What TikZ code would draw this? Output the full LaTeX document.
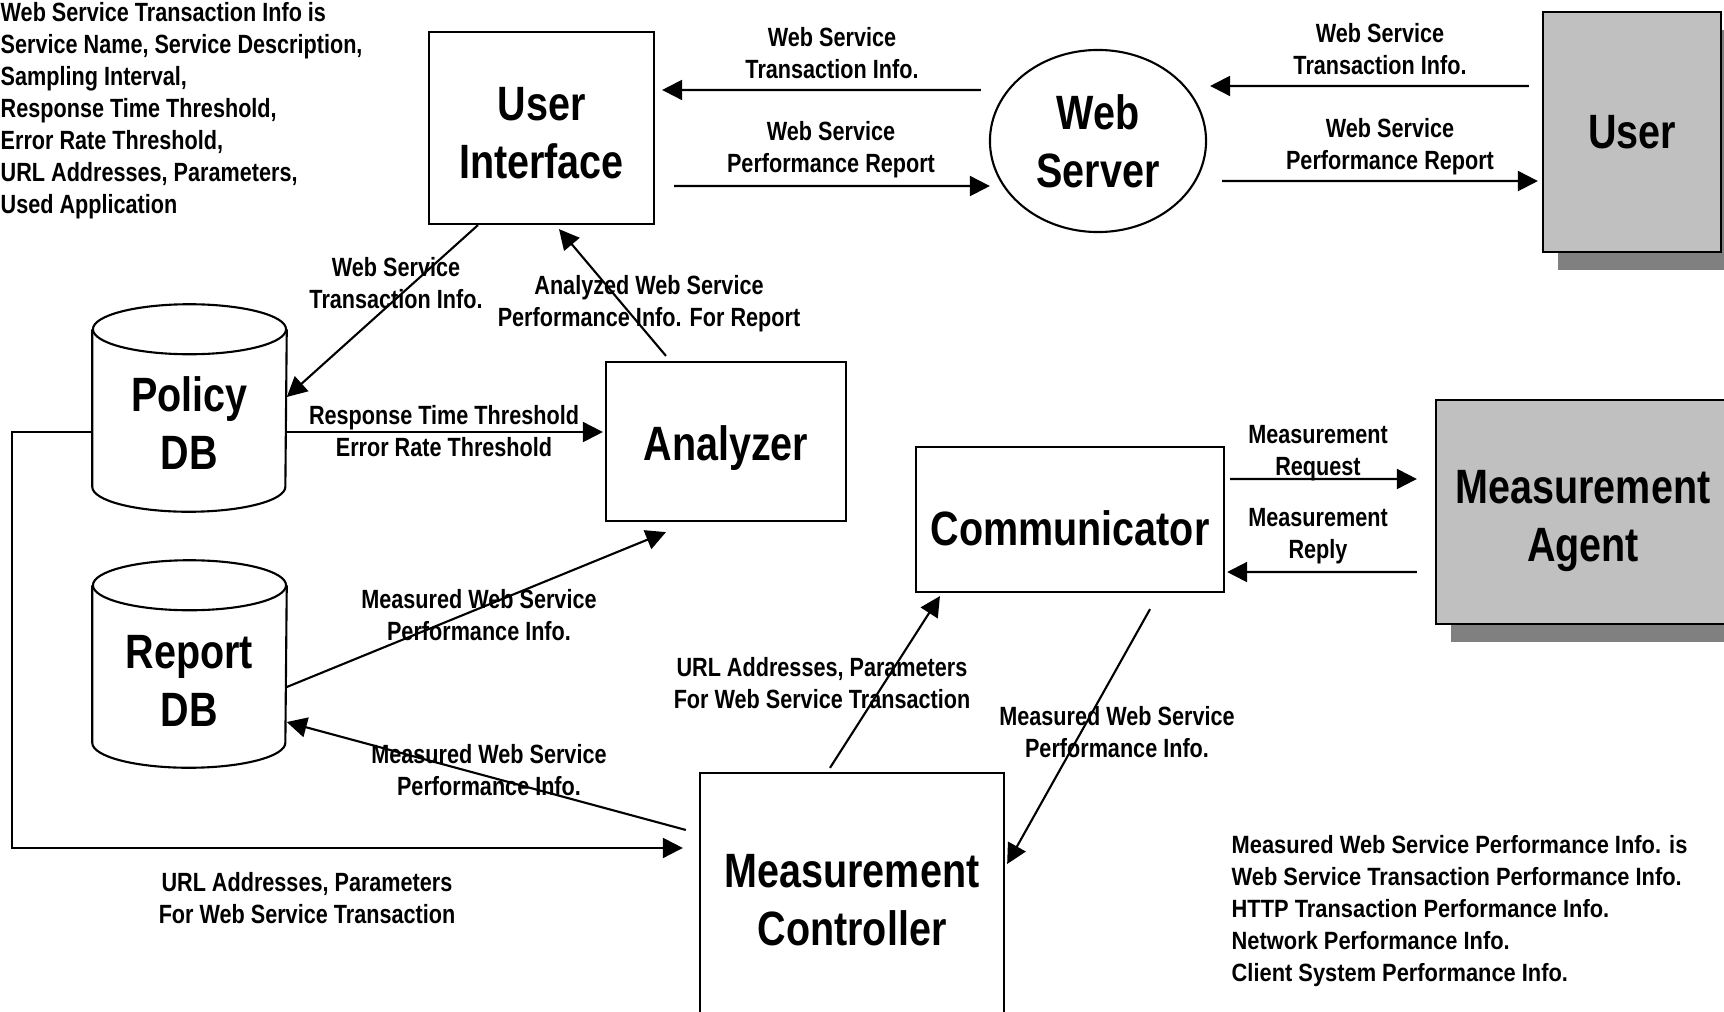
\documentclass[tikz,border=0pt]{standalone}
\usepackage{fontspec}
\setmainfont{Liberation Sans}
\newfontfamily\narrowfont{Liberation Sans}[FakeStretch=0.82]
\newfontfamily\notefont{Liberation Sans}[FakeStretch=0.875]
\usetikzlibrary{arrows.meta, positioning, shapes.geometric, shadows}

\definecolor{extgray}{HTML}{C0C0C0}
\definecolor{shadegray}{HTML}{808080}

\newcommand{\bigfont}{\narrowfont\bfseries\fontsize{13.7}{16.5}\selectfont}
\newcommand{\labfont}{\narrowfont\bfseries\fontsize{7.5}{9.1}\selectfont}

% database outline round a named node
\newcommand{\drawdb}[1]{%
    \draw[line width=0.6pt] ([yshift=-0.25cm]#1.north) ellipse[x radius=0.965cm, y radius=0.25cm];
    \draw[line width=0.6pt] ([yshift=-0.25cm]#1.north west) -- ([yshift=0.25cm]#1.south west)
        arc[start angle=180, end angle=360, x radius=0.965cm, y radius=0.25cm] -- ([yshift=-0.25cm]#1.north east);
}

\tikzset{
    unit/.style={draw, line width=0.6pt, font=\bigfont, align=center, inner sep=0pt},
    extunit/.style={unit, fill=extgray,
        drop shadow={shadow xshift=0.15cm, shadow yshift=-0.18cm, fill=shadegray, opacity=1}},
    dbase/.style={font=\bigfont, align=center, inner sep=0pt, minimum width=1.93cm, minimum height=2.06cm},
    lab/.style={font=\labfont, align=center, inner sep=0pt},
    flow/.style={line width=0.6pt, arrows={-Triangle[length=0.2cm, width=0.2cm]}}
}

\begin{document}
\begin{tikzpicture}[x=0.01cm, y=-0.01cm]
    \useasboundingbox (0,0) rectangle (1724,1012);

    %% main units
    % Nodes
    \node[unit, minimum width=2.25cm, minimum height=1.92cm, text height=28.8pt] (ui) at (541.5,128) {User\\Interface};
    \node[unit, ellipse, minimum width=2.16cm, minimum height=1.82cm] (web) at (1098,141) {Web\\Server};
    \node[extunit, minimum width=1.78cm, minimum height=2.4cm] (user) at (1632,132) {User};
    \node[dbase, text height=35pt] (policy) at (189.5,408) {Policy\\DB};
    \node[dbase, text height=35.5pt] (report) at (189.5,664) {Report\\DB};
    \node[unit, minimum width=2.4cm, minimum height=1.59cm, text height=13.6pt] (analyzer) at (726,441.5) {Analyzer};
    \node[unit, minimum width=3.08cm, minimum height=1.45cm, text height=15pt] (comm) at (1070,519.5) {Communicator};
    \node[extunit, minimum width=2.94cm, minimum height=2.24cm, text height=31.3pt] (agent) at (1583,512) {Measurement\\Agent};
    \node[unit, minimum width=3.04cm, minimum height=2.54cm] (ctrl) at (852,900) {Measurement\\Controller};
    \drawdb{policy}
    \drawdb{report}

    % Connections
    \draw[flow] ([xshift=-0.08cm, yshift=0.51cm]web.west) -- ([xshift=0.07cm, yshift=0.38cm]ui.east);
    \draw[flow] ([xshift=0.19cm, yshift=-0.58cm]ui.east) -- ([xshift=0.01cm, yshift=-0.45cm]web.west);
    \draw[flow] ([xshift=-0.13cm, yshift=0.46cm]user.west) -- ([xshift=0.03cm, yshift=0.55cm]web.east);
    \draw[flow] ([xshift=0.15cm, yshift=-0.4cm]web.east) -- ([xshift=-0.04cm, yshift=-0.49cm]user.west);
    \draw[flow] ([xshift=-0.635cm]ui.south) -- ([yshift=0.11cm]policy.east);
    \draw[flow] ([xshift=-0.6cm, yshift=0.05cm]analyzer.north) -- ([xshift=0.175cm, yshift=-0.04cm]ui.south);
    \coordinate (pa) at ([yshift=-0.24cm]policy.east);
    \draw[flow] (pa) -- ([xshift=-0.02cm]pa -| analyzer.west);
    \draw[flow] ([yshift=-0.23cm]report.east) -- ([xshift=-0.6cm, yshift=-0.1cm]analyzer.south);
    \draw[flow] ([xshift=-0.13cm, yshift=0.7cm]ctrl.west) -- ([yshift=-0.58cm]report.east);
    \draw[flow] ([yshift=-0.24cm]policy.west) -- ++(-80,0) |- ([xshift=-0.16cm, yshift=0.52cm]ctrl.west);
    \draw[flow] ([xshift=-0.22cm, yshift=0.04cm]ctrl.north) -- ([xshift=-1.3cm, yshift=-0.03cm]comm.south);
    \draw[flow] ([xshift=0.8cm, yshift=-0.16cm]comm.south) -- ([xshift=0.02cm, yshift=0.36cm]ctrl.east);
    \draw[flow] ([xshift=0.05cm, yshift=0.405cm]comm.east) -- ([xshift=-0.18cm, yshift=0.33cm]agent.west);
    \draw[flow] ([xshift=-0.18cm, yshift=-0.6cm]agent.west) -- ([xshift=0.02cm, yshift=-0.525cm]comm.east);

    % Labels
    \node[lab] (webinfo) at (1380,49.5) {Web Service\\Transaction Info.};
    \node[lab] (webreport) at (1390,146.5) {Web Service\\Performance Report};
    \node[lab] (uiinfo) at (832,53) {Web Service\\Transaction Info.};
    \node[lab] (uireport) at (831,150) {Web Service\\Performance Report};
    \node[lab] (policyinfo) at (396,283) {Web Service\\Transaction Info.};
    \node[lab] (analyzed) at (649,304) {Analyzed Web Service\\Performance Info. For Report};
    \node[lab] (threshold) at (444,431.5) {Response Time Threshold\\Error Rate Threshold};
    \node[lab] (reportperf) at (479,615) {Measured Web Service\\Performance Info.};
    \node[lab] (ctrlperf) at (489,770) {Measured Web Service\\Performance Info.};
    \node[lab] (policyurl) at (307,898) {URL Addresses, Parameters\\For Web Service Transaction};
    \node[lab] (ctrlurl) at (822,683) {URL Addresses, Parameters\\For Web Service Transaction};
    \node[lab] (commperf) at (1117,732) {Measured Web Service\\Performance Info.};
    \node[lab] (request) at (1318,453.5) {Measurement\\Request};
    \node[lab] (reply) at (1318,536) {Measurement\\Reply};

    % Notes
    \node[lab, align=left, anchor=west] (infonote) at (0,111) {Web Service Transaction Info is\\Service Name, Service Description,\\Sampling Interval,\\Response Time Threshold,\\Error Rate Threshold,\\URL Addresses, Parameters,\\Used Application};
    \node[lab, font=\notefont\bfseries\fontsize{7.1}{9.1}\selectfont, align=left, anchor=west] (perfnote) at (1231,911) {Measured Web Service Performance Info. is\\Web Service Transaction Performance Info.\\HTTP Transaction Performance Info.\\Network Performance Info.\\Client System Performance Info.};
\end{tikzpicture}
\end{document}
